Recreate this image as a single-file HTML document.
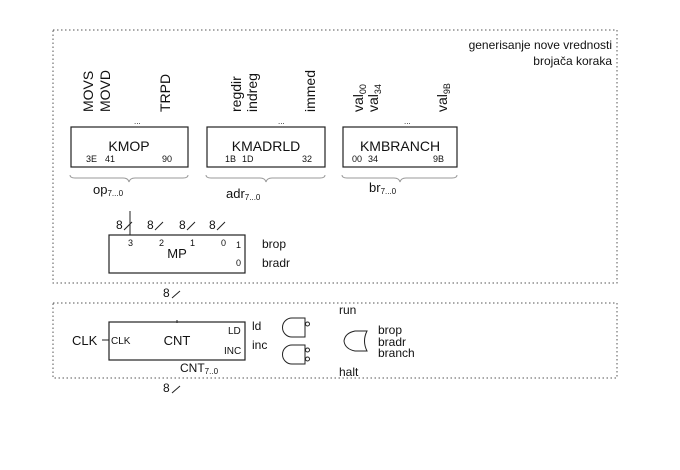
<!DOCTYPE html>
<html><head><meta charset="utf-8"><style>
body{margin:0;background:#fff}
svg{display:block}
text{font-family:"Liberation Sans",sans-serif;fill:#111}
.s{font-family:"Liberation Serif",serif}
</style></head><body>
<svg width="680" height="470" viewBox="0 0 680 470" xmlns="http://www.w3.org/2000/svg">
<g fill="none" stroke="#555" stroke-dasharray="1.5,2.5" stroke-width="1">
<rect x="53" y="30" width="564" height="253"/>
<rect x="53" y="303" width="564" height="75"/>
</g>
<text x="612" y="49" font-size="12" text-anchor="end">generisanje nove vrednosti</text>
<text x="612" y="65" font-size="12" text-anchor="end">brojača koraka</text>
<g font-size="14">
<text transform="translate(93,112) rotate(-90)">MOVS</text>
<text transform="translate(110,112) rotate(-90)">MOVD</text>
<text transform="translate(170,112) rotate(-90)">TRPD</text>
<text transform="translate(241,112) rotate(-90)">regdir</text>
<text transform="translate(257,112) rotate(-90)">indreg</text>
<text transform="translate(315,112) rotate(-90)">immed</text>
<text transform="translate(363,112) rotate(-90)">val<tspan font-size="9" dy="3">00</tspan></text>
<text transform="translate(378,112) rotate(-90)">val<tspan font-size="9" dy="3">34</tspan></text>
<text transform="translate(447,112) rotate(-90)">val<tspan font-size="9" dy="3">9B</tspan></text>
</g>
<g font-size="8"><text x="134" y="124">...</text><text x="278" y="124">...</text><text x="404" y="124">...</text></g>
<g fill="none" stroke="#222" stroke-width="1.2">
<rect x="71" y="127" width="117" height="40"/>
<rect x="207" y="127" width="118" height="40"/>
<rect x="343" y="127" width="114" height="40"/>
<rect x="109" y="235" width="136" height="38"/>
<rect x="109" y="322" width="136" height="38"/>
</g>
<g font-size="14" text-anchor="middle">
<text x="129" y="151">KMOP</text><text x="266" y="151">KMADRLD</text><text x="400" y="151">KMBRANCH</text>
</g>
<g class="s" font-size="9">
<text x="86" y="162">3E</text><text x="105" y="162">41</text><text x="162" y="162">90</text>
<text x="225" y="162">1B</text><text x="242" y="162">1D</text><text x="302" y="162">32</text>
<text x="352" y="162">00</text><text x="368" y="162">34</text><text x="433" y="162">9B</text>
</g>
<g fill="none" stroke="#999" stroke-width="1">
<path d="M70,175 Q70,178 75,178 L123,178 Q128,178 129,182 Q130,178 135,178 L183,178 Q188,178 188,175"/>
<path d="M206,175 Q206,178 211,178 L260,178 Q265,178 266,182 Q267,178 272,178 L320,178 Q325,178 325,175"/>
<path d="M342,175 Q342,178 347,178 L394,178 Q399,178 400,182 Q401,178 406,178 L452,178 Q457,178 457,175"/>
</g>
<text x="93" y="194" font-size="13">op<tspan font-size="8" dy="2">7...0</tspan></text>
<text x="226" y="198" font-size="13">adr<tspan font-size="8" dy="2">7...0</tspan></text>
<text x="369" y="192" font-size="13">br<tspan font-size="8" dy="2">7...0</tspan></text>
<g font-size="12"><text x="116" y="229">8</text><text x="147" y="229">8</text><text x="179" y="229">8</text><text x="209" y="229">8</text>
<text x="163" y="297">8</text><text x="163" y="392">8</text></g>
<g stroke="#222" stroke-width="1">
<line x1="130" y1="211" x2="130" y2="235"/>
<line x1="124" y1="230" x2="132" y2="222"/><line x1="155" y1="230" x2="163" y2="222"/><line x1="187" y1="230" x2="195" y2="222"/><line x1="217" y1="230" x2="225" y2="222"/>
<line x1="172" y1="298" x2="180" y2="291"/><line x1="172" y1="393" x2="180" y2="386"/>
<line x1="102" y1="340" x2="109" y2="340"/>
<line x1="177" y1="320" x2="177" y2="323"/>
</g>
<g class="s" font-size="9"><text x="128" y="246">3</text><text x="159" y="246">2</text><text x="190" y="246">1</text><text x="221" y="246">0</text><text x="236" y="248">1</text><text x="236" y="266">0</text></g>
<text x="177" y="258" font-size="13" text-anchor="middle">MP</text>
<text x="262" y="248" font-size="12">brop</text><text x="262" y="267" font-size="12">bradr</text>
<text x="72" y="345" font-size="13">CLK</text>
<text x="111" y="344" font-size="10">CLK</text>
<text x="177" y="345" font-size="13" text-anchor="middle">CNT</text>
<text x="228" y="334" font-size="10">LD</text><text x="224" y="354" font-size="10">INC</text>
<text x="180" y="372" font-size="12">CNT<tspan font-size="8" dy="2">7..0</tspan></text>
<text x="252" y="330" font-size="12">ld</text><text x="252" y="349" font-size="12">inc</text>
<text x="339" y="314" font-size="12">run</text><text x="339" y="376" font-size="12">halt</text>
<g font-size="12"><text x="378" y="334">brop</text><text x="378" y="346">bradr</text><text x="378" y="357">branch</text></g>
<g fill="none" stroke="#222" stroke-width="1">
<path d="M305,318 L292,318 A9.5,9.5 0 0 0 292,337 L305,337 Z"/>
<circle cx="307.5" cy="324" r="2"/>
<path d="M305,345 L292,345 A9.5,9.5 0 0 0 292,364 L305,364 Z"/>
<circle cx="307.5" cy="350" r="2"/><circle cx="307.5" cy="359" r="2"/>
<path d="M367,331 L355,331 Q345,333 344,341 Q345,349 355,351 L367,351 Q362,341 367,331 Z"/>
</g>
</svg>
</body></html>
